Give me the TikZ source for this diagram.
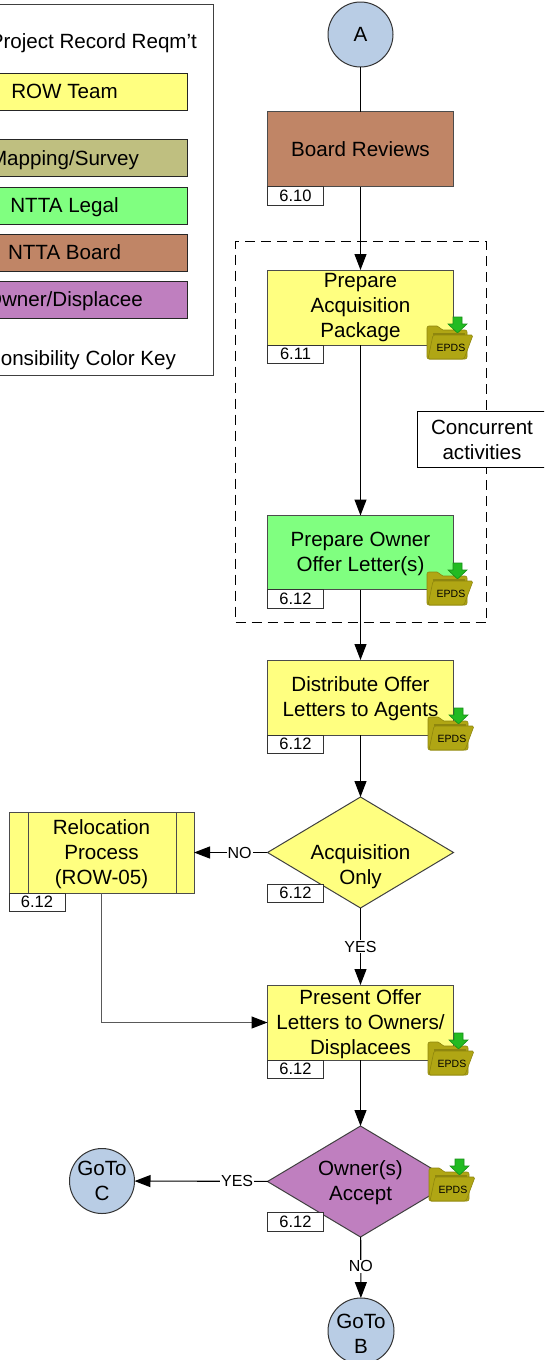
\documentclass[tikz,border=0pt]{standalone}
\usepackage{fontspec}
\setmainfont{Liberation Sans}
\usetikzlibrary{arrows.meta,shapes.geometric}
\definecolor{rowyellow}{HTML}{FFFF80}
\definecolor{mapolive}{HTML}{BFBF80}
\definecolor{legalgreen}{HTML}{80FF80}
\definecolor{boardbrown}{HTML}{C08566}
\definecolor{ownerpurple}{HTML}{BF7FBF}
\definecolor{circleblue}{HTML}{B9CDE5}
\definecolor{foldera}{HTML}{B0A614}
\definecolor{folderb}{HTML}{8E860E}
\definecolor{arrowg}{HTML}{22BB22}
\definecolor{arrowd}{HTML}{188F18}
\newcommand{\nudgedown}[1]{\rule{0pt}{#1pt}}
\tikzset{
  x=1pt,y=-1pt,
  base/.style={font=\fontsize{20.6}{25}\selectfont,align=center,inner sep=0pt,outer sep=0pt,line width=1pt},
  task/.style={base,draw=black!70,rectangle,minimum width=186,minimum height=75},
  keybox/.style={base,draw=black!85,rectangle,minimum width=246,minimum height=37,text=black},
  refbox/.style={rectangle,draw=black!80,fill=white,line width=.9pt,font=\fontsize{16.5}{18}\selectfont,minimum width=56,minimum height=18.5,inner sep=0pt,outer sep=0pt,anchor=north west},
  decision/.style={base,draw=black!75,diamond,aspect=1.68,minimum width=186,minimum height=111},
  term/.style={base,draw=black!80,circle,fill=circleblue,minimum size=65},
  flow/.style={draw=black,line width=1.1pt,-{Triangle[length=16pt,width=12pt]}},
  plainflow/.style={draw=black,line width=1.1pt},
  greyflow/.style={draw=black!65,line width=1.1pt},
  flowlabel/.style={fill=white,inner sep=1pt,font=\fontsize{16}{18}\selectfont},
  epds/.pic={
    \fill[foldera,draw=folderb,line width=.6pt,rounded corners=2pt] (0,9)--(12,9)--(14,13)--(40,13)--(40,42)--(0,42)--cycle;
    \fill[arrowg,draw=arrowd,line width=.6pt] (26,0)--(35,0)--(35,7)--(40,7)--(30.5,16)--(21,7)--(26,7)--cycle;
    \fill[folderb] (6,16)--(38,16)--(38,18)--(6,18)--cycle;
    \fill[foldera,draw=folderb,line width=.6pt,rounded corners=1.5pt] (6,18)--(46,18)--(37,42)--(1,42)--cycle;
    \node[inner sep=0pt,font=\fontsize{10.5}{12}\selectfont] (-tag) at (24,30.5) {EPDS};
  }
}
\begin{document}
\begin{tikzpicture}
\useasboundingbox (0,0) rectangle (544,1360);
\clip (0,0) rectangle (544,1360);
% legend
\node[rectangle,draw=black!75,fill=white,line width=1pt,minimum width=313,minimum height=371,anchor=north west,inner sep=0pt] (legend) at (-100,3.5) {};
\node[base,anchor=east] (keytitle) at (197,41) {\nudgedown{19}Project Record Reqm’t};
\node[keybox,fill=rowyellow,anchor=east] (k1) at (187.5,91.5) {ROW Team};
\node[keybox,fill=mapolive,anchor=east] (k2) at (187.5,158) {\nudgedown{19}Mapping/Survey};
\node[keybox,fill=legalgreen,anchor=east] (k3) at (187.5,205.5) {\nudgedown{19}NTTA Legal};
\node[keybox,fill=boardbrown,anchor=east] (k4) at (187.5,252.5) {NTTA Board};
\node[keybox,fill=ownerpurple,anchor=east] (k5) at (187.5,299.5) {\nudgedown{19}Owner/Displacee};
\node[base,anchor=east] (keyfoot) at (176,358) {\nudgedown{19}Responsibility Color Key};
% dashed frame
\node[rectangle,draw=black,dash pattern=on 10pt off 6pt,line width=1.1pt,minimum width=251,minimum height=381,anchor=north west,inner sep=0pt] (frame) at (235,241) {};
% nodes
\node[term] (a) at (360.5,34.5) {A};
\node[task,fill=boardbrown] (board) at (360.5,149) {Board Reviews};
\node[task,fill=rowyellow] (acq) at (360.5,307.5) {Prepare\\Acquisition\\Package};
\node[task,fill=legalgreen,minimum height=74] (offer) at (360.5,552.5) {\nudgedown{17}Prepare Owner\\Offer Letter(s)};
\node[task,fill=rowyellow] (dist) at (360.5,697.5) {\nudgedown{17}Distribute Offer\\Letters to Agents};
\node[decision,fill=rowyellow,label={[base,yshift=-14pt]center:Acquisition\\Only}] (acqonly) at (360.5,852.5) {};
\node[task,fill=rowyellow,minimum width=185,minimum height=81] (reloc) at (101.5,852.5) {\nudgedown{19}Relocation\\Process\\(ROW-05)};
\node[task,fill=rowyellow] (present) at (360.5,1022.5) {\nudgedown{18}Present Offer\\Letters to Owners/\\Displacees};
\node[decision,fill=ownerpurple] (accept) at (360.5,1181.5) {\nudgedown{17}Owner(s)\\Accept};
\node[term] (gotoc) at (102,1181) {GoTo\\C};
\node[term,minimum size=64] (gotob) at (361,1331) {\nudgedown{19}GoTo\\B};
\node[rectangle,draw=black,fill=white,base,minimum width=130,minimum height=56,anchor=north west] (conc) at (417,411) {\nudgedown{17}Concurrent\\activities};
% inner bars of the predefined process
\draw[line width=1pt,draw=black!70] (28,812) -- (28,893) (176,812) -- (176,893);
% reference tags
\node[refbox] (r1) at (267.5,186.5) {6.10};
\node[refbox] (r2) at (267.5,345) {6.11};
\node[refbox] (r3) at (267.5,589.5) {6.12};
\node[refbox] (r4) at (267.5,735) {6.12};
\node[refbox] (r5) at (267.5,884) {6.12};
\node[refbox] (r6) at (9,893) {6.12};
\node[refbox] (r7) at (267.5,1060) {6.12};
\node[refbox] (r8) at (267.5,1212.5) {6.12};
% connectors
\draw[plainflow] (a) -- (board);
\draw[flow] (board) -- (acq);
\draw[flow] (acq) -- (offer);
\draw[flow] (offer) -- (dist);
\draw[flow] (dist) -- (acqonly);
\draw[flow] (acqonly) -- node[flowlabel,pos=.38] (lno1) {NO} (reloc);
\draw[flow] (acqonly) -- node[flowlabel,pos=.5] (lyes1) {YES} (present);
\draw[greyflow,-{Triangle[length=16pt,width=12pt,color=black]}] (reloc.south) |- (present.west);
\draw[flow] (present) -- (accept);
\draw[flow] (accept) -- node[flowlabel,pos=.23] (lyes2) {YES} (gotoc);
\draw[flow] (accept) -- node[flowlabel,pos=.48] (lno2) {NO} (gotob);
% folders
\pic (f1) at (427,317) {epds};
\pic (f2) at (427,563) {epds};
\pic (f3) at (428,708) {epds};
\pic (f4) at (428,1033) {epds};
\pic (f5) at (429,1159) {epds};
\end{tikzpicture}
\end{document}
